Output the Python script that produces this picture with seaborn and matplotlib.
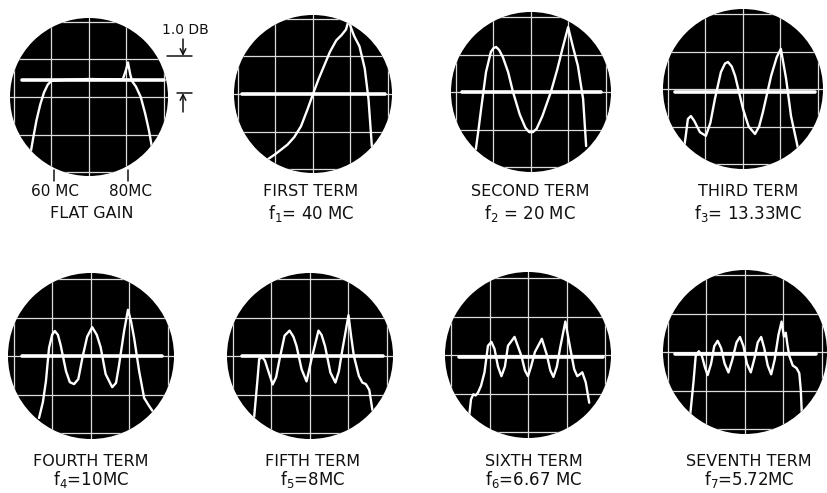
import numpy as np
import matplotlib
matplotlib.use("Agg")
import matplotlib.pyplot as plt
import seaborn as sns
from matplotlib.patches import Circle

# figure size in pixels
W, H = 828, 493

# panel labels
TITLES = ["", "FIRST TERM", "SECOND TERM", "THIRD TERM",
          "FOURTH TERM", "FIFTH TERM", "SIXTH TERM", "SEVENTH TERM"]
FREQS = ["FLAT GAIN", r"f$_1$= 40 MC", r"f$_2$ = 20 MC", r"f$_3$= 13.33MC",
         r"f$_4$=10MC", r"f$_5$=8MC", r"f$_6$=6.67 MC", r"f$_7$=5.72MC"]

# reference (zero) line of each scope, in grid divisions
REF_LEVEL = [0.45, 0.0, 0.0, -0.08, 0.0, 0.0, -0.05, -0.05]
REF_START = [-1.8, -1.9, -1.83, -1.81, -1.79, -1.76, -1.79, -1.82]
REF_END = [2.0, 1.92, 1.88, 1.92, 1.84, 1.89, 1.95, 1.84]

# traces, in grid divisions
flat_x = [-1.55, -1.48, -1.4, -1.3, -1.2, -1.1, -1.0, -0.6, 0.0, 0.5, 0.9, 0.98,
          1.04, 1.1, 1.15, 1.25, 1.38, 1.5, 1.6, 1.68]
flat_y = [-1.45, -1.05, -0.62, -0.2, 0.12, 0.33, 0.43, 0.46, 0.48, 0.47, 0.47, 0.7,
          0.92, 0.6, 0.42, 0.28, 0.0, -0.45, -0.9, -1.35]

first_x = [-1.35, -1.0, -0.68, -0.5, -0.32, -0.15, 0.0, 0.15, 0.3, 0.45, 0.62, 0.76,
           0.88, 0.95, 1.02, 1.1, 1.24, 1.38, 1.48, 1.57]
first_y = [-1.84, -1.6, -1.35, -1.15, -0.86, -0.42, 0.0, 0.4, 0.76, 1.12, 1.43, 1.57,
           1.72, 1.97, 1.75, 1.54, 1.27, 0.68, -0.14, -1.4]

second_x = [-1.47, -1.4, -1.33, -1.2, -1.07, -1.0, -0.93, -0.85, -0.75, -0.61, -0.48,
            -0.3, -0.15, -0.05, 0.05, 0.15, 0.3, 0.53, 0.7, 0.85, 0.99, 1.12, 1.25,
            1.39, 1.47]
second_y = [-1.52, -1.0, -0.45, 0.53, 1.07, 1.17, 1.2, 1.12, 0.93, 0.53, 0.0, -0.6,
            -0.95, -1.07, -1.07, -0.98, -0.65, 0.0, 0.6, 1.2, 1.73, 1.2, 0.7, -0.19,
            -1.44]

third_x = [-1.6, -1.52, -1.47, -1.39, -1.3, -1.15, -0.99, -0.87, -0.75, -0.59, -0.48,
           -0.4, -0.3, -0.21, 0.0, 0.15, 0.32, 0.43, 0.53, 0.75, 0.9, 1.01, 1.15, 1.28,
           1.47]
third_y = [-1.79, -1.2, -0.8, -0.72, -0.85, -1.15, -1.25, -0.9, -0.27, 0.45, 0.68,
           0.72, 0.6, 0.35, -0.53, -1.0, -1.2, -1.0, -0.62, 0.35, 0.85, 1.07, 0.27,
           -0.72, -1.6]

fourth_x = [-1.35, -1.25, -1.17, -1.09, -1.01, -0.94, -0.86, -0.79, -0.65, -0.55,
            -0.44, -0.33, -0.22, -0.1, 0.03, 0.15, 0.25, 0.38, 0.55, 0.65, 0.72, 0.86,
            0.96, 1.04, 1.12, 1.25, 1.38, 1.51, 1.6]
fourth_y = [-1.61, -1.2, -0.65, 0.21, 0.55, 0.65, 0.55, 0.29, -0.39, -0.68, -0.73,
            -0.6, -0.03, 0.5, 0.75, 0.55, 0.23, -0.47, -0.81, -0.7, -0.29, 0.65, 1.2,
            0.9, 0.47, -0.39, -1.09, -1.3, -1.43]

fifth_x = [-1.45, -1.37, -1.32, -1.24, -1.17, -1.1, -0.97, -0.88, -0.79, -0.66, -0.53,
           -0.43, -0.35, -0.22, -0.09, 0.04, 0.22, 0.3, 0.39, 0.53, 0.66, 0.75, 0.83,
           1.0, 1.07, 1.14, 1.27, 1.36, 1.45, 1.54, 1.62]
fifth_y = [-1.58, -0.68, -0.08, -0.03, -0.12, -0.34, -0.74, -0.55, -0.08, 0.53, 0.66,
           0.5, 0.26, -0.34, -0.66, -0.08, 0.66, 0.55, 0.26, -0.43, -0.69, -0.4, 0.1,
           1.06, 0.5, 0.0, -0.52, -0.69, -0.73, -0.88, -1.4]

sixth_x = [-1.53, -1.48, -1.42, -1.36, -1.3, -1.22, -1.13, -1.04, -0.95, -0.87, -0.78,
           -0.69, -0.6, -0.52, -0.35, -0.17, -0.08, 0.0, 0.08, 0.18, 0.36, 0.49, 0.58,
           0.66, 0.75, 0.83, 0.97, 1.1, 1.2, 1.28, 1.35, 1.41, 1.5, 1.59]
sixth_y = [-1.6, -1.15, -1.02, -1.05, -0.98, -0.8, -0.45, 0.24, 0.34, 0.16, -0.3,
           -0.55, -0.3, 0.24, 0.47, -0.03, -0.4, -0.55, -0.3, 0.08, 0.42, 0.0, -0.4,
           -0.57, -0.3, 0.16, 0.87, 0.16, -0.37, -0.55, -0.5, -0.45, -0.71, -1.24]

seventh_x = [-1.42, -1.34, -1.28, -1.2, -1.12, -1.04, -0.97, -0.88, -0.8, -0.71, -0.62,
             -0.53, -0.43, -0.33, -0.22, -0.13, -0.04, 0.05, 0.15, 0.25, 0.33, 0.42,
             0.5, 0.59, 0.68, 0.77, 0.87, 0.95, 1.01, 1.06, 1.1, 1.15, 1.24, 1.34,
             1.41, 1.45, 1.48]
seventh_y = [-1.6, -0.8, -0.1, 0.02, -0.1, -0.4, -0.6, -0.3, 0.15, 0.29, 0.1, -0.3,
             -0.53, -0.2, 0.25, 0.39, 0.15, -0.3, -0.53, -0.15, 0.25, 0.39, 0.1, -0.35,
             -0.58, -0.2, 0.45, 0.79, 0.4, 0.5, 0.2, -0.1, -0.35, -0.42, -0.55, -1.0,
             -1.7]

TRACES = [(flat_x, flat_y), (first_x, first_y), (second_x, second_y), (third_x, third_y),
          (fourth_x, fourth_y), (fifth_x, fifth_y), (sixth_x, sixth_y),
          (seventh_x, seventh_y)]

# layout: scope centres / radius in pixels, grid spacing in pixels
CENTERS = [(89, 97), (313, 94), (531, 92), (743, 89),
           (91, 356), (310, 356), (528, 355), (745, 352)]
RADII = [79, 79, 80, 80, 83, 83, 83, 82]
SPACING = [37.5, 37.5, 37.5, 37.5, 38.5, 38.5, 38.5, 38.5]
LABEL_X = [92, 311, 530, 748, 91, 313, 534, 749]


def draw_scope(ax, R, tx, ty, ref_y, ref_x0, ref_x1):
    circle = Circle((0, 0), R, facecolor="black", edgecolor="none", zorder=0)
    ax.add_patch(circle)
    for g in range(-2, 3):
        ax.axvline(g, color="#dcdcdc", lw=0.9, zorder=1)
        ax.axhline(g, color="#dcdcdc", lw=0.9, zorder=1)
    sns.lineplot(x=[ref_x0, ref_x1], y=[ref_y, ref_y], color="white", lw=2.6,
                 solid_capstyle="round", ax=ax, zorder=2)
    sns.lineplot(x=tx, y=ty, sort=False, estimator=None, color="white", lw=1.7,
                 solid_joinstyle="round", ax=ax, zorder=3)
    for ln in ax.lines:
        ln.set_clip_path(circle)
    ax.set_xlim(-R, R)
    ax.set_ylim(-R, R)
    ax.axis("off")


def main():
    sns.set_style("white")
    plt.rcParams["font.family"] = ["DejaVu Sans"]
    plt.rcParams["mathtext.fontset"] = "dejavusans"

    fig = plt.figure(figsize=(W / 100, H / 100), dpi=100)

    for i, (tx, ty) in enumerate(TRACES):
        cx, cy = CENTERS[i]
        r = RADII[i]
        ax = fig.add_axes([(cx - r) / W, 1 - (cy + r) / H, 2 * r / W, 2 * r / H])
        draw_scope(ax, r / SPACING[i], tx, ty, REF_LEVEL[i], REF_START[i], REF_END[i])

    # overlay in pixel coordinates for labels and markers
    ov = fig.add_axes([0, 0, 1, 1], facecolor="none")
    ov.set_xlim(0, W)
    ov.set_ylim(H, 0)
    ov.axis("off")

    ink = "#111111"
    for i in range(8):
        top = i < 4
        y1 = 192 if top else 462
        y2 = 213 if top else 479
        if i == 0:
            ov.text(55, y1, "60 MC", ha="center", va="center", fontsize=11, color=ink)
            ov.text(131, y1, "80MC", ha="center", va="center", fontsize=11, color=ink)
            ov.text(LABEL_X[i], y2, FREQS[i], ha="center", va="center", fontsize=11.5,
                    color=ink)
        else:
            ov.text(LABEL_X[i], y1, TITLES[i], ha="center", va="center", fontsize=11.5,
                    color=ink)
            ov.text(LABEL_X[i], y2, FREQS[i], ha="center", va="center", fontsize=12,
                    color=ink)

    # 60 / 80 MC markers
    for xm in (54, 128):
        ov.plot([xm, xm], [170, 181], color=ink, lw=1.1)

    # 1.0 DB marker
    ov.text(185, 30, "1.0 DB", ha="center", va="center", fontsize=10, color=ink)
    ov.plot([167, 192], [56, 56], color=ink, lw=1.1)
    ov.plot([177, 192], [93, 93], color=ink, lw=1.1)
    ov.annotate("", xy=(183, 56), xytext=(183, 39),
                arrowprops=dict(arrowstyle="->", color=ink, lw=1.1, shrinkA=0, shrinkB=0))
    ov.annotate("", xy=(183, 93), xytext=(183, 112),
                arrowprops=dict(arrowstyle="->", color=ink, lw=1.1, shrinkA=0, shrinkB=0))

    fig.savefig("out.png", dpi=100, facecolor="white")


if __name__ == "__main__":
    main()
